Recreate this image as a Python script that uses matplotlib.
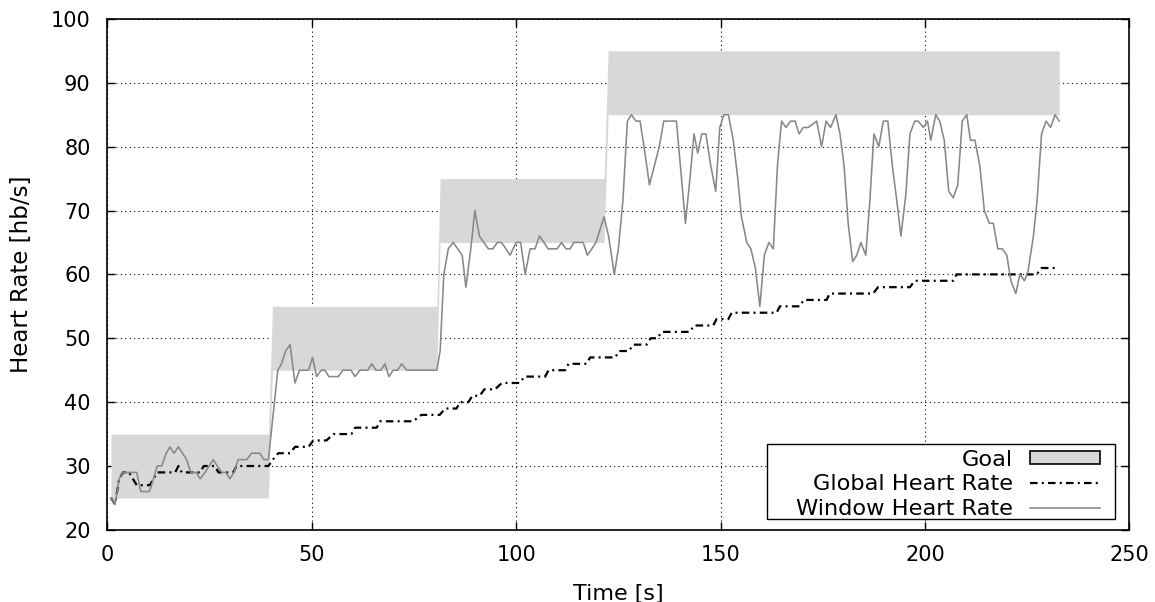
import matplotlib
matplotlib.use("Agg")
import matplotlib.pyplot as plt
import matplotlib.patches as mpatches
from matplotlib.lines import Line2D

# ---------------- data ----------------
goal_t = [0.9, 39.4, 40.4, 80.6, 81.4, 121.5, 122.5, 232.8]
goal_low = [25, 25, 45, 45, 65, 65, 85, 85]
goal_high = [35, 35, 55, 55, 75, 75, 95, 95]

win_t = [0.9, 1.9, 2.9, 3.9, 5.1, 7.2, 8.2, 10.3, 11.3, 12.2, 13.3, 14.4, 15.3, 16.3,
         17.4, 18.4, 19.4, 20.4, 21.7, 22.7, 23.9, 24.9, 25.9, 26.9, 28.0, 29.0, 30.0,
         31.0, 32.0, 34.1, 35.3, 37.3, 38.3, 39.4,
         41.7, 42.6, 43.6, 44.7, 45.9, 47.0, 49.2, 50.2, 51.2, 52.3, 53.2, 54.2, 56.5,
         57.6, 59.6, 60.6, 61.8, 63.7, 64.7, 65.7, 66.9, 67.9, 68.9, 69.9, 71.0, 72.0,
         73.2, 80.6,
         81.4, 82.3, 83.4, 84.6, 85.7, 86.8, 87.7, 88.9, 89.9, 91.0, 92.1, 93.2, 94.3,
         95.4, 96.4, 97.5, 98.5, 100.0, 101.1, 102.2, 103.4, 104.6, 105.7, 106.8, 107.8,
         110.0, 111.1, 112.2, 113.2, 114.1, 116.4, 117.4, 118.5, 119.5, 120.5, 121.5,
         122.6, 124.0, 125.0, 126.1, 127.2, 128.2, 129.3, 130.3, 131.5, 132.6, 133.8,
         135.0, 136.1, 139.2, 140.3, 141.4, 142.5, 143.5, 144.4, 145.4, 146.4, 147.6,
         148.8, 149.8, 150.8, 151.9, 153.1, 154.2, 155.1, 156.4, 157.4, 158.5, 159.6,
         160.7, 161.8, 162.9, 163.9, 164.9, 166.0, 167.1, 168.2, 169.2, 170.2, 171.4,
         173.5, 174.7, 175.8, 176.9, 178.2, 179.2, 180.2, 181.2, 182.3, 183.3, 184.3,
         185.5, 186.5, 187.5, 188.7, 189.8, 190.9, 192.0, 193.1, 194.1, 195.3, 196.3,
         197.5, 198.3, 199.6, 200.6, 201.4, 202.6, 203.6, 204.7, 205.8, 206.9, 208.0,
         209.1, 210.2, 211.1, 212.2, 213.4, 214.5, 215.7, 216.7, 217.8, 218.9, 220.0,
         221.0, 222.2, 223.2, 224.3, 225.2, 226.5, 227.4, 228.5, 229.6, 230.7, 231.8,
         232.8]
win_v = [25, 24, 28, 29, 29, 29, 26, 26, 28, 30, 30, 32, 33, 32,
         33, 32, 31, 29, 29, 28, 29, 30, 31, 30, 29, 29, 28,
         29, 31, 31, 32, 32, 31, 31,
         45, 46, 48, 49, 43, 45, 45, 47, 44, 45, 45, 44, 44,
         45, 45, 44, 45, 45, 46, 45, 45, 46, 44, 45, 45, 46,
         45, 45,
         48, 60, 64, 65, 64, 63, 58, 64, 70, 66, 65, 64, 64,
         65, 65, 64, 63, 65, 65, 60, 64, 64, 66, 65, 64,
         64, 65, 64, 64, 65, 65, 63, 64, 65, 67, 69,
         66, 60, 64, 71.5, 84, 85, 84, 84, 79, 74, 77,
         80, 84, 84, 76, 68, 75, 82, 79, 82, 82, 77,
         73, 83, 85, 85, 81, 75, 69, 65, 64, 61, 55,
         63, 65, 64, 77, 84, 83, 84, 84, 82, 83, 83,
         84, 80, 84, 83, 85, 82, 77, 68, 62, 63, 65,
         63, 71.5, 82, 80, 84, 84, 77, 71.5, 66, 72.5, 82,
         84, 84, 83, 84, 81, 85, 84, 81, 73, 72, 74,
         84, 85, 81, 81, 77, 70, 68, 68, 64, 64, 63,
         59, 57, 60, 59, 60.5, 66, 71.5, 82, 84, 83, 85,
         84]

glob_t = [0.9, 1.9, 2.9, 3.9, 5.3, 7.2, 10.4, 12.2, 16.6, 17.4, 18.2, 22.7, 23.6,
          26.3, 27.2, 30.8, 31.6, 39.4, 40.5, 41.8, 44.7, 45.9, 49.2, 50.4, 53.6,
          55.3, 59.7, 60.6, 65.9, 66.7, 74.8, 76.8, 81.3, 82.6, 85.4, 86.3, 88.3,
          89.3, 91.1, 92.2, 94.8, 96.5, 100.9, 102.0, 107.1, 107.9, 112.0, 112.8,
          117.2, 118.1, 124.2, 125.2, 127.6, 128.6, 131.9, 132.9, 134.5, 135.6,
          142.5, 143.5, 148.2, 149.0, 151.9, 152.7, 163.7, 164.5, 169.4, 170.3,
          175.9, 176.7, 187.3, 188.5, 196.3, 197.5, 206.9, 207.7, 227.3, 228.5,
          232.2]
glob_v = [25, 24, 28, 29, 29, 27, 27, 29, 29, 30, 29, 29, 30,
          30, 29, 29, 30, 30, 31, 32, 32, 33, 33, 34, 34,
          35, 35, 36, 36, 37, 37, 38, 38, 39, 39, 40, 40,
          41, 41, 42, 42, 43, 43, 44, 44, 45, 45, 46,
          46, 47, 47, 48, 48, 49, 49, 50, 50, 51,
          51, 52, 52, 53, 53, 54, 54, 55, 55, 56,
          56, 57, 57, 58, 58, 59, 59, 60, 60, 61,
          61]

x_ticks = [0, 50, 100, 150, 200, 250]
y_ticks = [20, 30, 40, 50, 60, 70, 80, 90, 100]
labels = ["Goal", "Global Heart Rate", "Window Heart Rate"]

# ---------------- figure ----------------
fig = plt.figure(figsize=(11.55, 6.02), dpi=100)
ax = fig.add_axes([0.0929, 0.1198, 0.885, 0.8488])

band_color = "#d8d8d8"
win_color = "#888888"
glob_lw = 1.6
glob_ls = (0, (3.4, 1.9, 0.9, 1.9))

ax.fill_between(goal_t, goal_low, goal_high, color=band_color, lw=0, zorder=1)
ax.plot(glob_t, glob_v, color="black", lw=glob_lw, ls=glob_ls, zorder=2)
ax.plot(win_t, win_v, color=win_color, lw=1.15, zorder=3)

ax.set_xlim(0, 250)
ax.set_ylim(20, 100)
ax.set_xticks(x_ticks)
ax.set_yticks(y_ticks)
ax.set_axisbelow(True)
ax.grid(True, color="black", lw=0.8, ls=(0, (1, 3)), zorder=0)

ax.tick_params(direction="in", length=5.5, width=1.0, top=True, right=True,
               labelsize=15, color="black")
ax.tick_params(axis="x", pad=11)
ax.tick_params(axis="y", pad=12)
for s in ax.spines.values():
    s.set_linewidth(1.2)
    s.set_zorder(6)

ax.set_xlabel("Time [s]", fontsize=16)
ax.set_ylabel("Heart Rate [hb/s]", fontsize=16.5)
ax.xaxis.set_label_coords(0.5, -0.106)
ax.yaxis.set_label_coords(-0.073, 0.5)

# legend box (gnuplot style)
box = mpatches.Rectangle((0.6454, 0.0207), 0.9858 - 0.6454, 0.1675 - 0.0207,
                         transform=ax.transAxes, facecolor="white",
                         edgecolor="black", lw=1.0, zorder=7)
ax.add_patch(box)

handles = [
    mpatches.Patch(facecolor=band_color, edgecolor="black", lw=1.2),
    Line2D([], [], color="black", lw=glob_lw, ls=glob_ls),
    Line2D([], [], color=win_color, lw=1.15),
]
leg = ax.legend(handles, labels, loc="lower right",
                bbox_to_anchor=(0.9711, 0.0215), borderaxespad=0,
                borderpad=0, frameon=False, markerfirst=False,
                fontsize=16.2, labelspacing=0.2, handlelength=3.1,
                handleheight=0.5, handletextpad=0.75)
leg.set_zorder(8)

fig.savefig("out.png", dpi=100)
